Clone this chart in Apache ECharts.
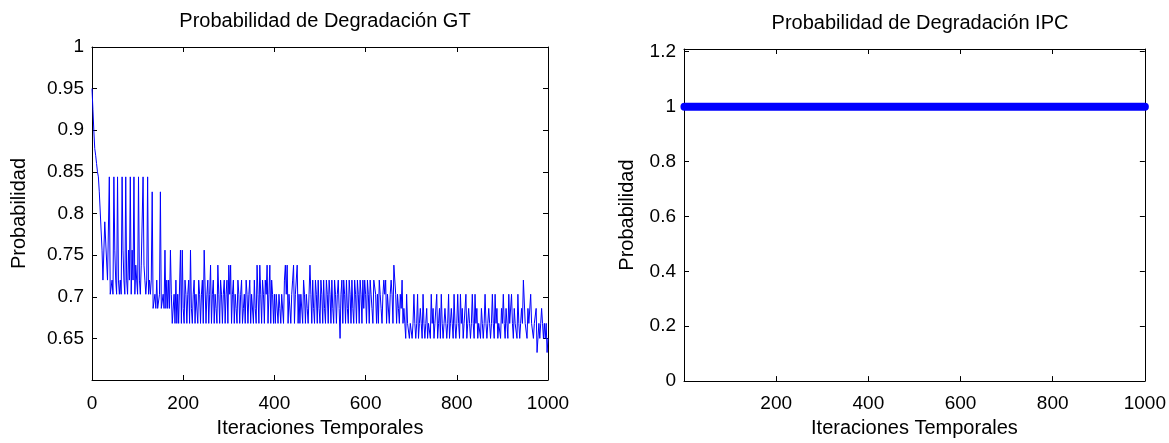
<!DOCTYPE html>
<html><head><meta charset="utf-8">
<script src="https://cdn.jsdelivr.net/npm/echarts@6/dist/echarts.min.js"></script>
<style>html,body{margin:0;padding:0;background:#fff}#c{width:1169px;height:443px}</style>
</head><body><div id="c"></div>
<script>
// ---- text ----
const titleGT = 'Probabilidad de Degradación GT';
const titleIPC = 'Probabilidad de Degradación IPC';
const xName = 'Iteraciones Temporales';
const yName = 'Probabilidad';

// ---- GT series: probability every 2 iterations (0,2,...,1000) ----
const gtStep = 2;
const gt000 = [0.95,0.925,0.9,0.878,0.87,0.86,0.85,0.844,0.826,0.826,
  0.826,0.756,0.72,0.72,0.79,0.79,0.79,0.72,0.72,0.844,
  0.703,0.703,0.72,0.703,0.844,0.756,0.72,0.703,0.844,0.72,
  0.703,0.72,0.703,0.844,0.756,0.72,0.703,0.844,0.72,0.703,
  0.756,0.72,0.844,0.703,0.756,0.72,0.844,0.703,0.738,0.72];
const gt100 = [0.703,0.844,0.72,0.703,0.738,0.738,0.844,0.738,0.72,0.703,
  0.72,0.844,0.703,0.72,0.703,0.72,0.826,0.686,0.686,0.703,
  0.686,0.72,0.686,0.686,0.703,0.826,0.686,0.686,0.703,0.686,
  0.756,0.686,0.72,0.686,0.72,0.686,0.756,0.703,0.668,0.668,
  0.703,0.668,0.72,0.668,0.703,0.668,0.668,0.756,0.668,0.756];
const gt200 = [0.686,0.668,0.72,0.703,0.668,0.703,0.72,0.668,0.756,0.686,
  0.668,0.703,0.72,0.668,0.703,0.703,0.668,0.72,0.703,0.668,
  0.703,0.72,0.668,0.756,0.756,0.668,0.703,0.72,0.668,0.703,
  0.738,0.668,0.703,0.72,0.668,0.703,0.686,0.668,0.738,0.703,
  0.668,0.72,0.703,0.668,0.703,0.72,0.668,0.703,0.72,0.668];
const gt300 = [0.738,0.703,0.738,0.668,0.703,0.72,0.668,0.703,0.686,0.668,
  0.72,0.703,0.668,0.703,0.72,0.668,0.686,0.703,0.668,0.72,
  0.703,0.668,0.703,0.72,0.668,0.703,0.703,0.668,0.72,0.686,
  0.668,0.738,0.703,0.668,0.738,0.703,0.668,0.72,0.703,0.668,
  0.72,0.703,0.738,0.668,0.703,0.738,0.668,0.72,0.703,0.668];
const gt400 = [0.703,0.668,0.703,0.703,0.668,0.703,0.686,0.668,0.703,0.703,
  0.668,0.72,0.738,0.703,0.738,0.668,0.703,0.703,0.668,0.703,
  0.72,0.738,0.668,0.703,0.703,0.738,0.668,0.703,0.668,0.703,
  0.703,0.668,0.72,0.703,0.668,0.703,0.686,0.668,0.703,0.738,
  0.703,0.668,0.72,0.686,0.668,0.72,0.703,0.668,0.72,0.686];
const gt500 = [0.668,0.72,0.703,0.668,0.72,0.686,0.668,0.72,0.703,0.668,
  0.72,0.703,0.668,0.72,0.686,0.668,0.72,0.703,0.668,0.703,
  0.72,0.686,0.65,0.703,0.72,0.668,0.72,0.703,0.668,0.72,
  0.686,0.668,0.72,0.703,0.668,0.72,0.686,0.668,0.72,0.703,
  0.668,0.72,0.703,0.668,0.72,0.703,0.668,0.72,0.686,0.72];
const gt600 = [0.703,0.668,0.72,0.703,0.668,0.72,0.703,0.686,0.668,0.72,
  0.72,0.703,0.668,0.703,0.668,0.72,0.703,0.686,0.668,0.703,
  0.72,0.703,0.72,0.668,0.703,0.703,0.668,0.703,0.72,0.703,
  0.668,0.738,0.738,0.703,0.668,0.703,0.686,0.668,0.703,0.686,
  0.72,0.668,0.686,0.668,0.65,0.703,0.668,0.668,0.65,0.668];
const gt700 = [0.668,0.65,0.668,0.703,0.668,0.65,0.668,0.703,0.65,0.668,
  0.686,0.668,0.65,0.703,0.668,0.65,0.668,0.686,0.65,0.668,
  0.668,0.65,0.703,0.668,0.686,0.65,0.668,0.668,0.703,0.65,
  0.668,0.686,0.65,0.703,0.668,0.65,0.668,0.686,0.668,0.65,
  0.668,0.703,0.65,0.668,0.686,0.668,0.65,0.703,0.668,0.65];
const gt800 = [0.668,0.703,0.668,0.65,0.703,0.668,0.686,0.65,0.668,0.668,
  0.703,0.65,0.668,0.686,0.668,0.65,0.668,0.703,0.668,0.65,
  0.703,0.668,0.686,0.65,0.668,0.668,0.65,0.686,0.668,0.65,
  0.668,0.703,0.668,0.65,0.668,0.686,0.668,0.65,0.668,0.703,
  0.668,0.65,0.703,0.668,0.686,0.65,0.668,0.668,0.65,0.686];
const gt900 = [0.668,0.703,0.668,0.65,0.686,0.668,0.65,0.703,0.668,0.668,
  0.703,0.668,0.65,0.686,0.668,0.668,0.65,0.703,0.668,0.65,
  0.668,0.686,0.668,0.72,0.72,0.668,0.668,0.65,0.686,0.668,
  0.668,0.703,0.668,0.668,0.65,0.668,0.668,0.686,0.633,0.633,
  0.668,0.65,0.668,0.686,0.668,0.65,0.668,0.65,0.668,0.633,
  0.65];

// ---- IPC series: constant probability over all iterations ----
const ipcIter = [1, 1000];
const ipcProb = [1, 1];

// ---- axis ticks ----
const xMin = 0, xMax = 1000, xStep = 200;
const gtYMin = 0.6, gtYMax = 1, gtYStep = 0.05;
const ipcYMin = 0, ipcYMax = 1.21, ipcYStep = 0.2;

const gtVals = [].concat(gt000, gt100, gt200, gt300, gt400, gt500, gt600, gt700, gt800, gt900);
const gtData = gtVals.map((v, i) => [i * gtStep, v]);
const ipcData = ipcIter.map((x, i) => [x, ipcProb[i]]);

const FONT = '"Liberation Sans", Arial, sans-serif';
const tick = {color: '#000', fontFamily: FONT, fontSize: 19};
const txt = {color: '#000', fontFamily: FONT, fontSize: 20};
const ttl = {color: '#000', fontFamily: FONT, fontSize: 20, fontWeight: 'normal'};

function num(v) { return String(parseFloat(v.toFixed(2))); }
function onGrid(v, step) { const k = v / step; return Math.abs(k - Math.round(k)) < 1e-6; }

function frameAxis(extra) {
  return Object.assign({
    type: 'value',
    axisLine: {show: true, onZero: false, lineStyle: {color: '#000', width: 1}},
    axisTick: {show: true, inside: true, length: 5, lineStyle: {color: '#000', width: 1}},
    splitLine: {show: false},
    axisLabel: {show: false}
  }, extra);
}

const chart = echarts.init(document.getElementById('c'), null, {renderer: 'canvas'});
chart.setOption({
  animation: false,
  backgroundColor: '#fff',
  title: [
    {text: titleGT, left: 320, top: 6, textAlign: 'center', textStyle: ttl},
    {text: titleIPC, left: 915, top: 8, textAlign: 'center', textStyle: ttl}
  ],
  grid: [
    {left: 92, top: 47, width: 456, height: 336},
    {left: 684, top: 49, width: 463, height: 336}
  ],
  xAxis: [
    frameAxis({gridIndex: 0, position: 'bottom', min: xMin, max: xMax, interval: xStep,
      axisLabel: Object.assign({show: true, margin: 14, formatter: v => String(v)}, tick),
      name: xName, nameLocation: 'middle', nameGap: 38, nameTextStyle: txt}),
    frameAxis({gridIndex: 0, position: 'top', min: xMin, max: xMax, interval: xStep}),
    frameAxis({gridIndex: 1, position: 'bottom', min: xMin, max: xMax, interval: xStep,
      axisLabel: Object.assign({show: true, margin: 13, formatter: v => v === 0 ? '' : String(v)}, tick),
      name: xName, nameLocation: 'middle', nameGap: 36, nameTextStyle: txt}),
    frameAxis({gridIndex: 1, position: 'top', min: xMin, max: xMax, interval: xStep})
  ],
  yAxis: [
    frameAxis({gridIndex: 0, position: 'left', min: gtYMin, max: gtYMax, interval: gtYStep,
      axisLabel: Object.assign({show: true, margin: 8, formatter: v => Math.abs(v - gtYMin) < 1e-9 ? '' : num(v)}, tick),
      name: yName, nameLocation: 'middle', nameRotate: 90, nameGap: 63, nameTextStyle: txt}),
    frameAxis({gridIndex: 0, position: 'right', min: gtYMin, max: gtYMax, interval: gtYStep}),
    frameAxis({gridIndex: 1, position: 'left', min: ipcYMin, max: ipcYMax, interval: ipcYStep,
      axisLabel: Object.assign({show: true, margin: 8, formatter: v => onGrid(v, ipcYStep) ? num(v) : ''}, tick),
      name: yName, nameLocation: 'middle', nameRotate: 90, nameGap: 47, nameTextStyle: txt}),
    frameAxis({gridIndex: 1, position: 'right', min: ipcYMin, max: ipcYMax, interval: ipcYStep})
  ],
  series: [
    {type: 'line', xAxisIndex: 0, yAxisIndex: 0, data: gtData, showSymbol: false, symbol: 'none',
      lineStyle: {color: '#0000ff', width: 1}, z: 3},
    {type: 'line', xAxisIndex: 2, yAxisIndex: 2, data: ipcData, showSymbol: false, symbol: 'none', clip: false,
      lineStyle: {color: '#0000ff', width: 8, cap: 'round'}, z: 3}
  ]
});
</script>
</body></html>
